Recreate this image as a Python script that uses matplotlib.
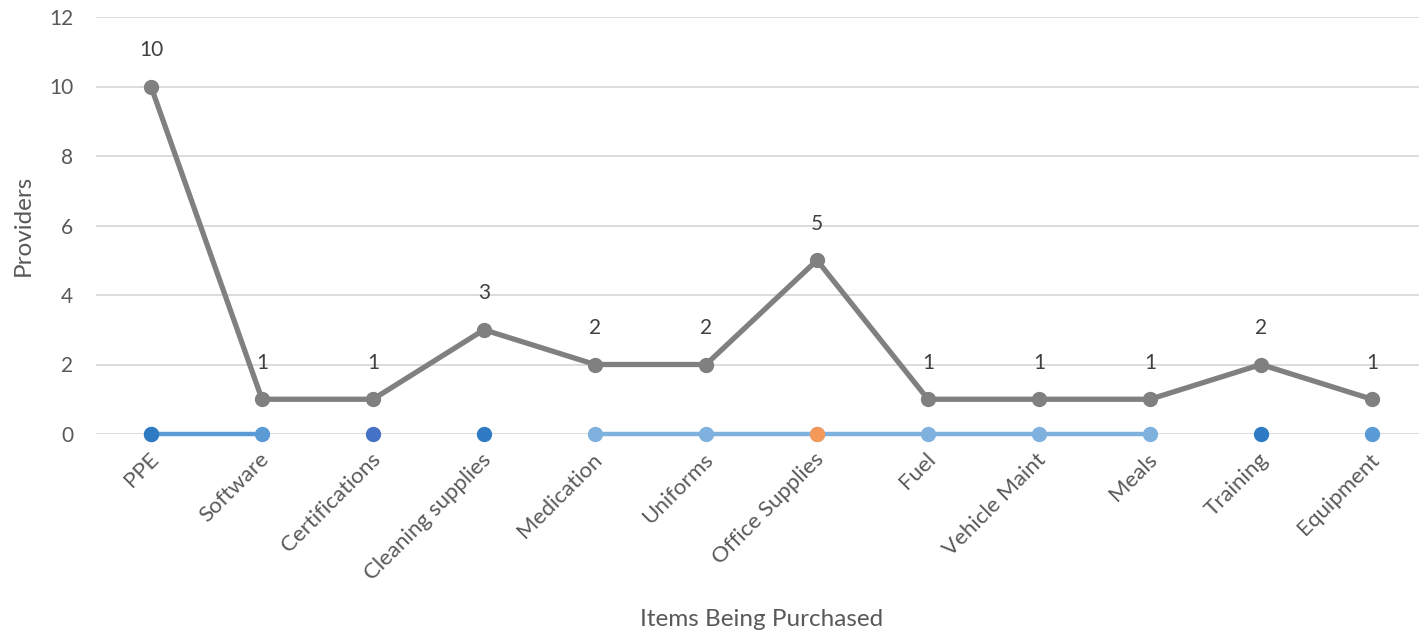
import numpy as np
import matplotlib
matplotlib.use("Agg")
import matplotlib.pyplot as plt
from matplotlib.transforms import ScaledTranslation

plt.rcParams['font.family'] = ['Lato', 'DejaVu Sans']

categories = ["PPE", "Software", "Certifications", "Cleaning supplies", "Medication",
              "Uniforms", "Office Supplies", "Fuel", "Vehicle Maint", "Meals",
              "Training", "Equipment"]
providers = [10, 1, 1, 3, 2, 2, 5, 1, 1, 1, 2, 1]
nan = np.nan
zero_a = [0, 0, nan, nan, nan, nan, nan, nan, nan, nan, nan, 0]
zero_b = [0, nan, nan, 0, nan, nan, nan, nan, nan, nan, 0, nan]
zero_c = [nan, nan, 0, nan, nan, nan, nan, nan, nan, nan, nan, nan]
zero_d = [nan, nan, nan, nan, 0, 0, 0, 0, 0, 0, nan, nan]
zero_e = [nan, nan, nan, nan, nan, nan, 0, nan, nan, nan, nan, nan]

fig = plt.figure(figsize=(14.19, 6.31), dpi=100)
ax = fig.add_axes([95.5 / 1419, (631 - 434) / 631, 1332 / 1419, 417 / 631])
x = np.arange(len(categories))

kw = dict(marker="o", ms=10, clip_on=False)
ax.plot(x, providers, color="#808080", lw=3.8, zorder=3, **kw)
ax.plot(x, zero_a, color="#5B9BD5", lw=3.2, zorder=4, **kw)
ax.plot(x, zero_d, color="#7FB1DF", lw=3.2, zorder=4, **kw)
ax.plot(x, zero_b, color="#2E7BC4", lw=3.2, zorder=5, **kw)
ax.plot(x, zero_c, color="#4472C4", lw=3.2, zorder=5, **kw)
ax.plot(x, zero_e, color="#F4995A", lw=3.2, zorder=6, **kw)

for xi, v in zip(x, providers):
    ax.annotate(str(v), (xi, v), xytext=(0, 19), textcoords="offset points",
                ha="center", va="bottom", fontsize=15, color="#404040")

ax.set_xlim(-0.5, len(categories) - 0.5)
ax.set_ylim(0, 12)
ax.set_yticks(range(0, 13, 2))
ax.yaxis.grid(True, color="#D9D9D9", lw=1.3)
ax.set_axisbelow(True)
for s in ax.spines.values():
    s.set_visible(False)
ax.tick_params(axis="both", length=0, labelcolor="#595959")
ax.tick_params(axis="y", pad=16, labelsize=15)
ax.set_xticks(x)
ax.set_xticklabels(categories, rotation=45, ha="right", va="top", rotation_mode="anchor")
ax.tick_params(axis="x", pad=11, labelsize=16)
shift = ScaledTranslation(-3 / 100, 0, fig.dpi_scale_trans)
for lbl in ax.get_xticklabels():
    lbl.set_transform(lbl.get_transform() + shift)
ax.set_ylabel("Providers", fontsize=17.5, color="#595959", labelpad=11)
ax.set_xlabel("Items Being Purchased", fontsize=17.5, color="#595959", labelpad=18)

fig.savefig("out.png", dpi=100)
